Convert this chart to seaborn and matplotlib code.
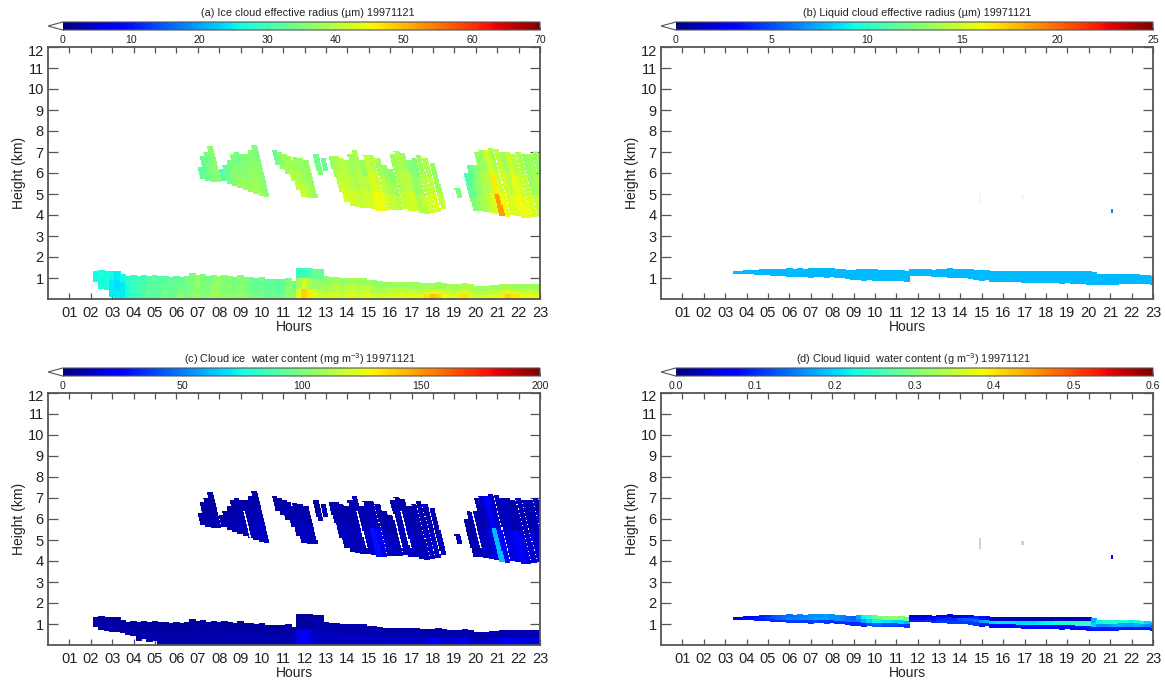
import numpy as np
import pandas as pd
import seaborn as sns
import matplotlib
matplotlib.use('Agg')
import matplotlib.pyplot as plt
from matplotlib.ticker import MultipleLocator
from matplotlib.transforms import ScaledTranslation

n = np.nan

# Upper ice cloud, one entry per quarter hour (hour is where the column meets the cloud base)
upper_hour = [7.25, 7.5, 7.75, 8.0, 8.25, 8.5, 8.75, 9.0, 9.25, 9.5, 9.75, 10.0, 10.25, 10.5, 10.75, 11.0, 11.25,
              11.5, 11.75, 12.0, 12.25, 12.5, 12.75, 13.0, 13.25, 13.5, 13.75, 14.0, 14.25, 14.5, 14.75, 15.0, 15.25,
              15.5, 15.75, 16.0, 16.25, 16.5, 16.75, 17.0, 17.25, 17.5, 17.75, 18.0, 18.25, 18.5, 18.75, 19.0, 19.25,
              19.5, 19.75, 20.0, 20.25, 20.5, 20.75, 21.0, 21.25, 21.5, 21.75, 22.0, 22.25, 22.5, 22.75, 23.0, 23.25,
              23.5, 23.75]
upper_base = [5.7, 5.6, 5.55, 5.55, 5.6, 5.5, 5.4, 5.3, 5.2, 5.1, 5.0, 4.9, 4.85, n, 6.4, 6.2, 5.95,
              5.6, 5.2, 4.85, 4.8, 4.8, 5.9, 6.1, n, 5.8, 5.1, 4.6, 4.45, 4.4, 4.35, 4.35, 4.3,
              4.2, 4.2, 4.25, 4.25, 4.25, 4.3, 4.2, 4.2, 4.1, 4.05, 4.1, 4.15, 4.3, n, n, 4.8,
              n, n, 4.2, 4.2, 4.15, 4.1, 4.05, 3.95, 3.9, 4.0, 3.95, 3.85, 3.85, 3.9, 3.95, 3.95,
              4.0, 4.0]
upper_top = [6.3, 6.8, 7.0, 7.3, 6.2, 6.4, 6.6, 6.9, 7.0, 6.9, 6.9, 7.1, 7.35, n, 7.1, 7.0, 6.9,
             6.8, 6.6, 6.75, 6.7, 6.6, 6.9, 6.7, n, 6.8, 6.8, 6.8, 6.7, 6.6, 6.9, 7.1, 6.6,
             6.85, 6.85, 6.7, 6.4, 6.2, 6.9, 7.05, 6.95, 6.6, 6.7, 6.85, 6.7, 6.5, n, n, 5.3,
             n, n, 6.0, 6.4, 6.4, 7.0, 7.1, 7.1, 7.2, 7.15, 7.0, 7.0, 6.9, 7.0, 6.9, 6.9,
             7.0, 6.9]
upper_re_hi = [32, 33, 34, 36, 31, 33, 34, 35, 34, 35, 36, 36, 35, n, 33, 36, 37,
               38, 38, 38, 37, 37, 34, 33, n, 36, 38, 39, 40, 39, 38, 39, 37,
               41, 40, 38, 37, 36, 38, 39, 38, 36, 35, 38, 39, 37, n, n, 34,
               n, n, 31, 33, 36, 37, 38, 42, 39, 41, 38, 42, 40, 39, 37, 38,
               37, 36]
upper_re_mid = [32, 33, 35, 36, 32, 33, 35, 36, 36, 36, 37, 37, 36, n, 33, 36, 38,
                39, 39, 39, 38, 37, 34, 33, n, 37, 39, 41, 41, 40, 39, 40, 40,
                43, 42, 40, 39, 38, 39, 40, 40, 37, 38, 40, 41, 38, n, n, 35,
                n, n, 33, 35, 37, 39, 40, 46, 42, 42, 40, 44, 42, 41, 38, 39,
                38, 37]
upper_re_lo = [33, 34, 35, 36, 32, 34, 35, 37, 38, 37, 38, 38, 36, n, 34, 37, 38,
               40, 41, 41, 40, 38, 35, 33, n, 38, 41, 43, 42, 42, 41, 42, 42,
               45, 44, 42, 41, 40, 41, 42, 42, 39, 41, 42, 43, 41, n, n, 36,
               n, n, 35, 37, 39, 41, 43, 52, 45, 43, 43, 45, 44, 43, 41, 40,
               39, 38]
upper_iwc_hi = [7, 7, 6, 7, 7, 8, 7, 7, 8, 8, 7, 9, 8, n, 6, 7, 8,
                8, 8, 8, 8, 7, 6, 7, n, 7, 8, 8, 8, 8, 8, 9, 8,
                11, 10, 8, 8, 7, 8, 9, 8, 8, 8, 9, 9, 8, n, n, 10,
                n, n, 6, 8, 9, 9, 12, 24, 13, 10, 11, 10, 9, 10, 9, 10,
                9, 8]
upper_iwc_lo = [8, 8, 8, 8, 8, 9, 9, 10, 10, 10, 10, 12, 11, n, 7, 8, 8,
                9, 10, 11, 11, 10, 8, 8, n, 8, 10, 11, 10, 10, 10, 11, 14,
                28, 19, 13, 11, 10, 10, 12, 11, 10, 10, 12, 12, 10, n, n, 11,
                n, n, 8, 10, 11, 12, 18, 62, 25, 16, 18, 22, 16, 14, 13, 11,
                10, 10]
upper_gap_hour = [9.7, 15.0, 16.65, 17.05, 20.35]

# Lower ice cloud
low_hour = [2.25, 2.5, 2.75, 3.0, 3.25, 3.5, 3.75, 4.0, 4.25, 4.5, 4.75, 5.0, 5.25, 5.5, 5.75, 6.0, 6.25, 6.5, 6.75,
            7.0, 7.25, 7.5, 7.75, 8.0, 8.25, 8.5, 8.75, 9.0, 9.25, 9.5, 9.75, 10.0, 10.25, 10.5, 10.75, 11.0, 11.25,
            11.5, 11.75, 12.0, 12.25, 12.5, 12.75, 13.0, 13.25, 13.5, 13.75, 14.0, 14.25, 14.5, 14.75, 15.0, 15.25,
            15.5, 15.75, 16.0, 16.25, 16.5, 16.75, 17.0, 17.25, 17.5, 17.75, 18.0, 18.25, 18.5, 18.75, 19.0, 19.25,
            19.5, 19.75, 20.0, 20.25, 20.5, 20.75, 21.0, 21.25, 21.5, 21.75, 22.0, 22.25, 22.5, 22.75, 23.0]
low_top = [1.35, 1.4, 1.35, 1.35, 1.35, 1.2, 1.1, 1.15, 1.1, 1.15, 1.1, 1.15, 1.1, 1.1, 1.05, 1.1, 1.05, 1.1, 1.25,
           1.15, 1.2, 1.1, 1.15, 1.1, 1.15, 1.1, 1.05, 1.15, 1.05, 1.05, 1.0, 1.05, 0.95, 0.95, 0.95, 0.95, 1.0,
           0.85, 1.5, 1.5, 1.5, 1.45, 1.45, 1.1, 1.05, 1.05, 1.0, 1.0, 1.0, 1.0, 0.98, 0.92, 0.92,
           0.85, 0.8, 0.8, 0.8, 0.8, 0.8, 0.78, 0.78, 0.76, 0.76, 0.76, 0.78, 0.75, 0.72, 0.72, 0.7,
           0.75, 0.72, 0.62, 0.62, 0.6, 0.66, 0.66, 0.68, 0.68, 0.7, 0.7, 0.72, 0.7, 0.72, 0.7]
low_base_re = [0.8, 0.5, 0.45, 0.1] + [0.0] * 80
low_base_iwc = [0.85, 0.7, 0.65, 0.6, 0.6, 0.55, 0.5, 0.45, 0.2, 0.3, 0.15, 0.2] + [0.0] * 72
low_re_hi = [26, 27, 27, 26, 25, 26, 28, 29, 30, 30, 31, 32, 31, 32, 33, 32, 33, 34, 35,
             37, 35, 34, 36, 37, 35, 36, 34, 36, 35, 34, 33, 34, 32, 33, 32, 33, 35,
             34, 29, 29, 31, 33, 33, 36, 37, 38, 37, 38, 39, 38, 38, 38, 37,
             37, 37, 37, 38, 38, 37, 38, 38, 38, 38, 38, 38, 38, 39, 38, 38,
             39, 39, 38, 38, 38, 38, 38, 38, 39, 38, 38, 38, 38, 38, 38]
low_re_mid = [26, 27, 27, 25, 24, 25, 27, 29, 30, 30, 32, 32, 32, 33, 33, 33, 34, 34, 35,
              37, 35, 35, 37, 37, 35, 36, 35, 36, 35, 34, 33, 34, 33, 33, 32, 33, 36,
              35, 38, 42, 39, 37, 37, 38, 39, 40, 39, 40, 41, 40, 40, 41, 39,
              39, 39, 40, 40, 41, 40, 41, 41, 40, 42, 43, 43, 41, 41, 40, 42,
              42, 41, 40, 40, 41, 41, 41, 42, 43, 42, 42, 41, 41, 41, 40]
low_re_lo = [26, 27, 27, 25, 25, 25, 27, 29, 30, 31, 33, 32, 33, 35, 33, 34, 36, 34, 36,
             38, 35, 36, 38, 38, 36, 37, 36, 37, 36, 35, 34, 35, 33, 34, 33, 34, 37,
             36, 44, 48, 46, 43, 41, 41, 42, 42, 41, 42, 43, 41, 42, 44, 42,
             42, 42, 43, 43, 44, 43, 44, 44, 43, 47, 49, 48, 45, 44, 43, 46,
             47, 43, 42, 42, 44, 44, 45, 46, 48, 47, 46, 44, 44, 44, 43]
low_iwc_hi = [8, 7, 7, 6, 6, 6, 6, 6, 6, 6, 6, 6, 6, 6, 6, 6, 6, 6, 7,
              7, 6, 6, 7, 7, 6, 6, 6, 7, 6, 6, 6, 6, 6, 6, 6, 7, 7,
              7, 5, 6, 6, 7, 7, 8, 8, 8, 8, 8, 8, 8, 8, 8, 8,
              8, 8, 8, 8, 8, 8, 8, 8, 8, 8, 8, 8, 8, 8, 8, 8,
              8, 8, 8, 8, 8, 8, 9, 9, 9, 9, 9, 9, 9, 9, 9]
low_iwc_lo = [8, 8, 8, 7, 7, 7, 8, 8, 7, 8, 8, 8, 8, 8, 8, 8, 8, 8, 8,
              9, 8, 8, 9, 9, 9, 9, 9, 9, 9, 9, 9, 9, 9, 9, 9, 9, 10,
              10, 18, 24, 17, 13, 12, 11, 11, 11, 11, 12, 12, 12, 12, 12, 12,
              12, 12, 13, 13, 14, 14, 14, 14, 14, 16, 20, 19, 16, 15, 14, 18,
              19, 14, 14, 14, 15, 16, 17, 20, 23, 20, 19, 17, 17, 16, 15]

# Liquid layer
liq_hour = [3.5, 3.75, 4.0, 4.25, 4.5, 4.75, 5.0, 5.25, 5.5, 5.75, 6.0, 6.25, 6.5, 6.75, 7.0, 7.25, 7.5, 7.75, 8.0,
            8.25, 8.5, 8.75, 9.0, 9.25, 9.5, 9.75, 10.0, 10.25, 10.5, 10.75, 11.0, 11.25, 11.5, 11.75, 12.0, 12.25,
            12.5, 12.75, 13.0, 13.25, 13.5, 13.75, 14.0, 14.25, 14.5, 14.75, 15.0, 15.25, 15.5, 15.75, 16.0, 16.25,
            16.5, 16.75, 17.0, 17.25, 17.5, 17.75, 18.0, 18.25, 18.5, 18.75, 19.0, 19.25, 19.5, 19.75, 20.0, 20.25,
            20.5, 20.75, 21.0, 21.25, 21.5, 21.75, 22.0, 22.25, 22.5, 22.75, 23.0]
liq_base = [1.2, 1.22, 1.2, 1.18, 1.15, 1.15, 1.15, 1.12, 1.1, 1.08, 1.05, 1.05, 1.04, 1.03, 1.02, 1.03, 1.05, 1.02, 1.05,
            1.02, 1.0, 0.97, 0.92, 0.9, 0.87, 0.88, 0.85, 0.87, 0.85, 0.85, 0.85, 0.83, 0.8, 1.1, 1.1, 1.1,
            1.08, 1.05, 1.05, 1.03, 1.02, 1.0, 1.0, 1.0, 0.97, 0.92, 0.86, 0.88, 0.8, 0.8, 0.8, 0.8,
            0.79, 0.78, 0.77, 0.76, 0.76, 0.74, 0.73, 0.74, 0.73, 0.72, 0.73, 0.71, 0.7, 0.68, 0.66, 0.66,
            0.67, 0.66, 0.66, 0.67, 0.68, 0.68, 0.69, 0.68, 0.7, 0.68, 0.67]
liq_top = [1.35, 1.36, 1.4, 1.38, 1.4, 1.45, 1.45, 1.46, 1.45, 1.45, 1.48, 1.47, 1.48, 1.47, 1.5, 1.48, 1.52, 1.5, 1.5,
           1.46, 1.44, 1.4, 1.4, 1.44, 1.47, 1.45, 1.45, 1.42, 1.4, 1.4, 1.4, 1.38, 1.36, 1.47, 1.47, 1.47,
           1.47, 1.42, 1.47, 1.46, 1.5, 1.47, 1.47, 1.47, 1.46, 1.42, 1.4, 1.38, 1.36, 1.36, 1.36, 1.36,
           1.36, 1.36, 1.36, 1.36, 1.36, 1.36, 1.36, 1.36, 1.36, 1.36, 1.36, 1.36, 1.36, 1.36, 1.36, 1.28,
           1.2, 1.2, 1.2, 1.2, 1.2, 1.2, 1.2, 1.22, 1.17, 1.15, 1.12]
liq_re = [7.7] * 79
liq_lwc_hi = [0.06, 0.06, 0.07, 0.07, 0.08, 0.09, 0.1, 0.12, 0.13, 0.14, 0.14, 0.14, 0.15, 0.15, 0.16, 0.16, 0.16, 0.17, 0.16,
              0.16, 0.15, 0.14, 0.13, 0.17, 0.22, 0.24, 0.28, 0.3, 0.3, 0.31, 0.32, 0.3, 0.28, 0.03, 0.03, 0.04,
              0.05, 0.04, 0.05, 0.06, 0.05, 0.05, 0.05, 0.06, 0.08, 0.1, 0.08, 0.07, 0.05, 0.04, 0.04, 0.04,
              0.04, 0.04, 0.03, 0.03, 0.03, 0.03, 0.03, 0.03, 0.03, 0.03, 0.03, 0.03, 0.03, 0.03, 0.04, 0.18,
              0.22, 0.23, 0.24, 0.24, 0.23, 0.24, 0.22, 0.23, 0.22, 0.2, 0.18]
liq_lwc_mid = [0.07, 0.07, 0.08, 0.08, 0.09, 0.1, 0.11, 0.12, 0.13, 0.14, 0.15, 0.15, 0.15, 0.16, 0.16, 0.17, 0.17, 0.17, 0.16,
               0.16, 0.15, 0.14, 0.14, 0.15, 0.17, 0.2, 0.22, 0.22, 0.21, 0.21, 0.2, 0.2, 0.18, 0.06, 0.06, 0.06,
               0.08, 0.08, 0.09, 0.1, 0.1, 0.1, 0.12, 0.13, 0.13, 0.14, 0.17, 0.18, 0.2, 0.21, 0.21, 0.21,
               0.21, 0.2, 0.2, 0.2, 0.2, 0.21, 0.22, 0.22, 0.23, 0.23, 0.24, 0.24, 0.24, 0.25, 0.25, 0.2,
               0.16, 0.16, 0.17, 0.18, 0.18, 0.17, 0.17, 0.18, 0.17, 0.16, 0.14]
liq_lwc_lo = [0.07, 0.07, 0.08, 0.08, 0.09, 0.09, 0.1, 0.1, 0.1, 0.1, 0.11, 0.11, 0.11, 0.11, 0.11, 0.12, 0.11, 0.11, 0.1,
              0.1, 0.1, 0.1, 0.1, 0.1, 0.1, 0.12, 0.13, 0.13, 0.12, 0.12, 0.12, 0.11, 0.11, 0.09, 0.09, 0.09,
              0.1, 0.1, 0.11, 0.11, 0.11, 0.11, 0.11, 0.11, 0.11, 0.11, 0.09, 0.09, 0.08, 0.08, 0.08, 0.08,
              0.08, 0.08, 0.08, 0.08, 0.08, 0.08, 0.08, 0.08, 0.08, 0.08, 0.08, 0.08, 0.08, 0.08, 0.09, 0.09,
              0.09, 0.09, 0.09, 0.09, 0.09, 0.09, 0.09, 0.09, 0.09, 0.09, 0.09]

# Small isolated liquid speck near 21 h, and the two pale ones at 15 and 17 h
speck_hour = [21.1]
speck_base = [4.1]
speck_top = [4.3]
speck_re = [6.5]
speck_lwc = [0.07]
faint_hour = [14.9, 16.9]
faint_base = [4.55, 4.75]
faint_top = [5.1, 4.95]
faint_re = [7.7, 7.7]
faint_lwc = [0.05, 0.05]
faint_alpha = [0.0, 0.08, 0.0, 0.2]

panel_titles = ['(a) Ice cloud effective radius (\u00b5m) 19971121',
                '(b) Liquid cloud effective radius (\u00b5m) 19971121',
                '(c) Cloud ice  water content (mg m$^{-3}$) 19971121',
                '(d) Cloud liquid  water content (g m$^{-3}$) 19971121']
cbar_ticks = [[0, 10, 20, 30, 40, 50, 60, 70],
              [0, 5, 10, 15, 20, 25],
              [0, 50, 100, 150, 200],
              [0.0, 0.1, 0.2, 0.3, 0.4, 0.5, 0.6]]
cbar_minor_step = [5, 2.5, 25, 0.05]
hour_labels = ['01', '02', '03', '04', '05', '06', '07', '08', '09', '10', '11', '12',
               '13', '14', '15', '16', '17', '18', '19', '20', '21', '22', '23']
height_labels = ['1', '2', '3', '4', '5', '6', '7', '8', '9', '10', '11', '12']

dh = 0.05
dz = 0.05
n_cols = int(23 / dh)
n_rows = int(12 / dz)
col_hour = (np.arange(n_cols) + 0.5) * dh
row_km = 12 - (np.arange(n_rows) + 0.5) * dz


def paint(grid, hours, bases, tops, layers, width=0.25, tilt=0.0):
    for i, h in enumerate(hours):
        if np.isnan(bases[i]):
            continue
        rows = np.where((row_km >= bases[i]) & (row_km <= tops[i]))[0]
        for r in rows:
            frac = (tops[i] - row_km[r]) / (tops[i] - bases[i])
            layer = layers[min(int(frac * len(layers)), len(layers) - 1)]
            x = h - tilt * (row_km[r] - bases[i])
            grid[r, np.abs(col_hour - x) <= width / 2] = layer[i]


def cut_gaps(grid, hours, tilt):
    for h in hours:
        for r in range(n_rows):
            if 4.6 < row_km[r] < 6.4:
                x = h - tilt * (row_km[r] - 4.2)
                grid[r, np.abs(col_hour - x) <= 0.04] = np.nan


def ice_grid(upper_layers, low_layers, low_base, gaps):
    grid = np.full((n_rows, n_cols), np.nan)
    paint(grid, upper_hour, upper_base, upper_top, upper_layers, tilt=0.25)
    if gaps:
        cut_gaps(grid, upper_gap_hour, 0.25)
    paint(grid, low_hour, low_base, low_top, low_layers)
    return grid


def liquid_grid(layers, speck):
    grid = np.full((n_rows, n_cols), np.nan)
    paint(grid, liq_hour, liq_base, liq_top, layers)
    paint(grid, speck_hour, speck_base, speck_top, [speck], width=0.12)
    return grid


def faint_grid(values):
    grid = np.full((n_rows, n_cols), np.nan)
    paint(grid, faint_hour, faint_base, faint_top, [values], width=0.08)
    return grid


grids = [ice_grid([upper_re_hi, upper_re_mid, upper_re_lo], [low_re_hi, low_re_mid, low_re_lo], low_base_re, False),
         liquid_grid([liq_re], speck_re),
         ice_grid([upper_iwc_hi, upper_iwc_lo], [low_iwc_hi, low_iwc_lo], low_base_iwc, True),
         liquid_grid([liq_lwc_hi, liq_lwc_mid, liq_lwc_lo], speck_lwc)]
faint_values = [None, faint_re, None, faint_lwc]

W, H = 1165, 680
lefts = [48, 661, 48, 661]
tops_px = [47, 47, 393, 393]
title_x = [308, 917, 299.5, 913]
title_y = [13, 13, 359, 359]
ax_w, ax_h = 492, 252

sns.set_theme(style='white')
plt.rcParams['font.family'] = ['Liberation Sans', 'DejaVu Sans']
plt.rcParams['mathtext.default'] = 'regular'
cmap = plt.get_cmap('jet').copy()
cmap.set_under('white')
spine_col = '#555555'
text_col = '#222222'

fig = plt.figure(figsize=(W / 100, H / 100), dpi=100)
for k in range(4):
    ax = fig.add_axes([lefts[k] / W, 1 - (tops_px[k] + ax_h) / H, ax_w / W, ax_h / H])
    cax = fig.add_axes([lefts[k] / W, 1 - (tops_px[k] - 17) / H, ax_w / W, 8 / H])
    frame = pd.DataFrame(grids[k], index=row_km, columns=col_hour)
    sns.heatmap(frame, ax=ax, cbar_ax=cax, cmap=cmap, vmin=cbar_ticks[k][0], vmax=cbar_ticks[k][-1],
                xticklabels=False, yticklabels=False,
                cbar_kws={'orientation': 'horizontal', 'extend': 'min', 'extendfrac': 0.031,
                          'ticks': cbar_ticks[k]})
    if faint_values[k] is not None:
        sns.heatmap(pd.DataFrame(faint_grid(faint_values[k]), index=row_km, columns=col_hour), ax=ax, cbar=False,
                    cmap=cmap, vmin=cbar_ticks[k][0], vmax=cbar_ticks[k][-1], alpha=faint_alpha[k],
                    xticklabels=False, yticklabels=False)
    for s in ax.spines.values():
        s.set_visible(True)
        s.set_color(spine_col)
        s.set_linewidth(1.3)
    ax.set_xticks([(i + 1) / dh for i in range(23)])
    ax.set_xticklabels(hour_labels, rotation=0, fontsize=10.5, color=text_col)
    ax.set_yticks([(12 - (i + 1)) / dz for i in range(12)])
    ax.set_yticklabels(height_labels, rotation=0, fontsize=10.5, color=text_col)
    ax.tick_params(axis='x', direction='in', top=True, bottom=True, length=4, width=0.9, color=spine_col, pad=5)
    ax.tick_params(axis='y', direction='in', left=True, right=True, length=7.5, width=0.9, color=spine_col, pad=3)
    # the topmost label sits a little under its tick in the original
    top_label = ax.get_yticklabels()[-1]
    top_label.set_transform(top_label.get_transform() + ScaledTranslation(0, -3 / 100, fig.dpi_scale_trans))
    ax.set_xlabel('Hours', fontsize=10, color=text_col, labelpad=0)
    ax.set_ylabel('Height (km)', fontsize=10, color=text_col, labelpad=1)

    cbar = ax.collections[0].colorbar
    cbar.ax.xaxis.set_minor_locator(MultipleLocator(cbar_minor_step[k]))
    cbar.ax.tick_params(axis='x', which='major', direction='in', length=2, width=0.6, color='#333333',
                        labelsize=7.6, labelcolor=text_col, pad=3.5)
    cbar.ax.tick_params(axis='x', which='minor', direction='in', length=1.2, width=0.5, color='#333333')
    cbar.outline.set_edgecolor(spine_col)
    cbar.outline.set_linewidth(0.8)
    if k == 3:
        cbar.ax.set_xticklabels(['%.1f' % v for v in cbar_ticks[k]])
    fig.text(title_x[k] / W, 1 - title_y[k] / H, panel_titles[k], fontsize=7.8, color=text_col,
             ha='center', va='center')

fig.savefig('out.png', dpi=100, facecolor='white')
